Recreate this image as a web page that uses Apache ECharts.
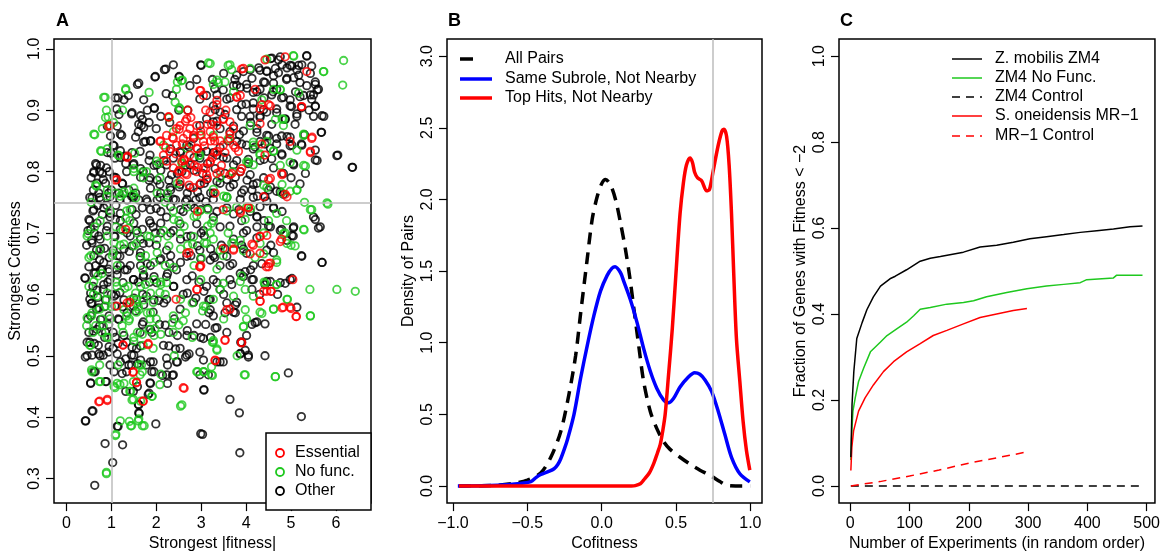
<!DOCTYPE html>
<html>
<head>
<meta charset="utf-8">
<script src="https://cdn.jsdelivr.net/npm/echarts@6/dist/echarts.min.js"></script>
<style>
  html, body { margin: 0; padding: 0; background: #fff; }
  #chart { width: 1163px; height: 557px; }
</style>
</head>
<body>
<div id="chart"></div>
<script>
// ---- panel A: strongest |fitness| vs strongest cofitness ----
const otherPts = [
  [2.38,0.974],[2.18,0.966],[1.97,0.954],[1.58,0.942],[3.0,0.973],[2.51,0.954],[2.22,0.927],[2.36,0.924],[1.38,0.924],[1.15,0.92],
  [1.12,0.902],[1.72,0.917],[1.96,0.903],[1.65,0.891],[1.67,0.875],[1.6,0.865],[1.76,0.849],[1.88,0.85],[1.45,0.894],[1.23,0.859],
  [1.04,0.843],[0.99,0.83],[0.89,0.806],[0.67,0.811],[0.61,0.798],[0.74,0.8],[0.82,0.787],[1.34,0.8],[1.49,0.811],[1.3,0.825],[1.08,0.822],
  [2.97,0.918],[3.12,0.924],[3.27,0.907],[3.42,0.897],[3.57,0.918],[3.72,0.94],[3.87,0.937],[3.75,0.95],[4.01,0.942],[4.09,0.966],
  [4.28,0.969],[4.46,0.964],[4.57,0.985],[4.72,0.982],[4.8,0.974],[4.91,0.969],[5.02,0.972],[5.13,0.966],[5.24,0.974],[5.35,0.988],
  [5.46,0.972],[5.06,0.953],[5.2,0.945],[5.35,0.94],[5.54,0.942],[5.61,0.934],[5.28,0.924],[5.46,0.918],[5.54,0.907],[5.69,0.891],
  [5.67,0.864],[5.5,0.925],[4.72,0.961],[4.61,0.956],[4.42,0.945],[4.31,0.934],[4.16,0.929],[4.68,0.934],[4.83,0.921],[4.98,0.907],
  [5.13,0.894],[4.87,0.886],[4.68,0.902],[4.46,0.897],[4.31,0.891],[4.16,0.902],[4.24,0.87],[4.46,0.859],[4.68,0.854],[4.91,0.857],
  [5.02,0.843],[5.24,0.843],[5.06,0.811],[5.54,0.835],[5.54,0.819],[6.04,0.827],[6.36,0.807],[4.8,0.827],[4.54,0.838],[4.31,0.849],
  [4.01,0.843],[3.79,0.849],[3.64,0.865],[3.42,0.87],[3.27,0.881],[3.12,0.886],[2.97,0.875],[2.83,0.854],[2.68,0.843],[2.53,0.833],
  [2.38,0.822],[2.23,0.811],[2.34,0.795],[2.57,0.8],[2.75,0.811],[2.97,0.822],[3.12,0.833],[3.35,0.827],[3.57,0.822],[3.72,0.811],
  [3.87,0.8],[4.09,0.795],[4.16,0.779],[4.39,0.79],[4.61,0.806],[4.68,0.768],[4.83,0.763],[3.72,0.779],[3.57,0.787],[3.35,0.784],
  [3.12,0.787],[2.97,0.779],[2.75,0.774],[2.53,0.779],[2.31,0.774],[2.08,0.779],[1.86,0.79],[1.71,0.8],[2.01,0.811],[1.86,0.827],[1.64,0.833],
  [0.52,0.758],[0.74,0.758],[0.97,0.759],[1.19,0.755],[1.49,0.758],[1.78,0.755],[2.08,0.758],[2.38,0.755],[2.68,0.755],[2.97,0.758],
  [3.27,0.755],[3.57,0.758],[3.87,0.755],[4.16,0.758],[4.46,0.752],[4.61,0.742],
  [0.59,0.736],[0.52,0.72],[0.48,0.704],[0.56,0.688],[0.67,0.672],[0.74,0.656],[0.97,0.726],[0.89,0.704],[1.08,0.694],[1.04,0.672],
  [1.19,0.662],[1.56,0.704],[1.71,0.683],[1.93,0.71],[2.23,0.726],[2.38,0.704],[2.53,0.715],[2.68,0.694],[2.9,0.715],[3.05,0.704],
  [3.27,0.726],[3.42,0.71],[3.72,0.731],[4.01,0.704],[4.24,0.71],[4.24,0.726],[4.54,0.71],[4.76,0.704],[4.91,0.688],[5.06,0.71],
  [5.02,0.696],[5.5,0.726],[5.65,0.71],[5.24,0.662],[5.69,0.652],[2.23,0.672],[2.68,0.662],[2.97,0.672],[3.2,0.656],[3.57,0.662],
  [4.01,0.667],[4.46,0.672],[2.08,0.656],[1.64,0.662],
  [0.41,0.627],[0.59,0.613],[0.52,0.592],[0.67,0.576],[0.48,0.56],[0.74,0.549],[0.52,0.522],[0.71,0.517],[0.82,0.501],[0.46,0.5],
  [0.64,0.474],[0.54,0.456],[0.89,0.458],[0.97,0.485],[1.04,0.512],[1.04,0.538],[1.15,0.56],[1.08,0.581],[1.19,0.603],[1.26,0.619],
  [1.34,0.522],[1.45,0.501],[1.34,0.474],[1.45,0.485],[1.56,0.512],[1.64,0.538],[1.71,0.555],[1.49,0.581],[1.78,0.597],[1.93,0.571],
  [1.9,0.538],[1.93,0.49],[1.9,0.474],[1.86,0.456],[1.82,0.437],[1.6,0.421],[1.62,0.406],[1.49,0.442],[2.16,0.517],[2.23,0.496],
  [2.23,0.469],[2.38,0.469],[2.45,0.49],[2.53,0.512],[2.68,0.501],[2.68,0.533],[2.9,0.552],[3.05,0.528],[2.97,0.506],[3.05,0.493],
  [2.97,0.469],[3.16,0.469],[3.06,0.445],[3.42,0.49],[3.31,0.545],[3.57,0.538],[3.72,0.571],[3.79,0.587],[4.01,0.533],[3.87,0.504],
  [4.05,0.498],[3.88,0.522],[4.24,0.555],[4.42,0.552],[4.42,0.5],[3.64,0.429],[3.85,0.407],[5.23,0.401],[4.94,0.472],[5.13,0.579],
  [4.98,0.624],[4.76,0.619],[4.46,0.621],[4.16,0.624],[3.94,0.629],[3.64,0.624],[3.35,0.619],[3.2,0.592],[2.68,0.624],[2.38,0.613],
  [2.23,0.629],[2.01,0.619],[1.71,0.629],[1.49,0.624],[0.97,0.624],[0.82,0.608],[2.99,0.373],[3.86,0.342],[1.99,0.389],[1.15,0.385],
  [1.25,0.355],[0.86,0.357],[1.03,0.326],[0.63,0.289],[0.43,0.394],[0.59,0.41],[2.23,0.592],[2.53,0.576],[2.83,0.587],[3.12,0.613],
  [0.55,0.79],[0.6,0.77],[0.7,0.745],[0.8,0.73],[0.9,0.745],[1.0,0.77],[1.1,0.745],[0.45,0.68],[0.62,0.7],[0.75,0.69],
  [0.85,0.675],[0.95,0.66],[1.12,0.64],[0.5,0.645],[0.65,0.635],[0.8,0.64],[0.92,0.62],[1.0,0.6],[1.1,0.6],[0.55,0.585],
  [0.7,0.595],[0.85,0.58],[0.95,0.565],[0.6,0.54],[0.85,0.53],[0.95,0.515],[1.15,0.52],[1.2,0.49],[0.75,0.5],[0.62,0.52],
  [1.25,0.58],[1.3,0.64],[1.35,0.7],[1.4,0.67],[1.2,0.72],[1.25,0.78],[1.1,0.79],[0.95,0.8],[1.45,0.76],[1.55,0.73],
  [1.6,0.62],[1.7,0.6],[1.8,0.65],[1.85,0.62],[2.0,0.68],[2.1,0.7],[2.3,0.65],[2.45,0.64],[2.6,0.6],[2.8,0.63],
  [2.95,0.62],[3.3,0.66],[3.45,0.68],[3.5,0.6],[3.7,0.65],[3.9,0.68],[4.1,0.64],[4.3,0.6],[4.35,0.65],[4.55,0.68],
  [4.7,0.6],[2.4,0.56],[2.2,0.55],[2.05,0.59],[3.0,0.7],[3.15,0.74],[2.85,0.74],[2.6,0.735],[2.0,0.74],[1.85,0.72],
  [3.9,0.72],[4.4,0.72],[4.8,0.735],[2.7,0.9],[2.5,0.9],[2.3,0.88],[2.0,0.87],[2.1,0.89],[1.8,0.9],[2.9,0.95],
  [3.25,0.95],[3.5,0.96],[3.3,0.935],[2.75,0.94],[4.0,0.91],[3.9,0.89],[4.1,0.88],[3.85,0.86],[4.2,0.84],[4.4,0.82],
  [4.05,0.82],[3.95,0.77],[4.25,0.76],[4.5,0.77],[5.0,0.79],[5.2,0.78],[5.3,0.86],[5.4,0.9],[5.1,0.93],[4.9,0.95],
  [4.6,0.93],[4.4,0.92],
  [2.21,0.967],[2.51,0.955],[1.98,0.955],[1.61,0.944],[2.99,0.974],[1.09,0.92],[1.28,0.917],[1.46,0.896],[1.17,0.893],[1.69,0.885],
  [1.84,0.88],[1.95,0.904],[1.61,0.877],[1.72,0.872],[1.54,0.856],[1.72,0.848],[1.87,0.85],[1.46,0.831],[1.2,0.834],[0.91,0.831],
  [1.06,0.842],[1.2,0.861],[0.98,0.858],[1.13,0.874],[0.91,0.874],[1.2,0.823],[1.32,0.813],[1.5,0.813],[1.65,0.805],[1.84,0.818],
  [1.95,0.81],[2.1,0.802],[2.17,0.818],[2.32,0.837],[2.54,0.831],[2.73,0.84],[2.84,0.823],[2.99,0.831],[3.14,0.813],[3.03,0.797],
  [2.84,0.802],[2.65,0.81],[2.47,0.797],[2.28,0.786],[0.65,0.813],[0.76,0.81],[0.61,0.8],[0.8,0.797],[0.68,0.781],[0.87,0.781],
  [1.06,0.791],[1.24,0.781],[1.39,0.77],[1.54,0.765],[1.35,0.754],[1.17,0.765],[0.94,0.765],[0.72,0.765],[0.76,0.754],[0.57,0.757],
  [1.65,0.791],[1.84,0.786],[2.02,0.786],[1.87,0.773],[2.1,0.765],[2.32,0.77],[2.51,0.775],[2.69,0.765],[2.92,0.767],[3.07,0.781],
  [3.21,0.765],[3.1,0.751],[2.88,0.754],[2.65,0.751],[2.43,0.754],[2.25,0.757],[2.02,0.754],[1.8,0.751],[1.61,0.754],
  [0.61,0.738],[0.83,0.741],[0.98,0.732],[1.2,0.732],[1.46,0.738],[1.69,0.741],[1.87,0.738],[2.1,0.735],[2.32,0.743],[2.54,0.738],
  [2.77,0.746],[2.99,0.738],[0.5,0.722],[0.68,0.716],[0.54,0.706],[0.72,0.695],[0.57,0.684],[0.76,0.674],[0.61,0.663],[0.83,0.652],
  [0.65,0.647],[0.94,0.641],[1.13,0.663],[1.28,0.674],[1.46,0.679],[1.65,0.668],[1.84,0.684],[1.98,0.7],[1.87,0.716],[2.1,0.716],
  [2.32,0.7],[2.54,0.69],[2.77,0.695],[2.92,0.679],[3.07,0.695],[3.21,0.674],[2.99,0.658],[2.77,0.663],[2.54,0.652],[2.32,0.663],
  [2.1,0.658],[1.87,0.647],[1.65,0.647],[1.42,0.647],[1.2,0.647],[1.06,0.695],[1.2,0.706],[0.91,0.711],[1.09,0.722],[1.5,0.716],
  [1.69,0.706],[1.42,0.695],[1.65,0.69],
  [4.54,0.984],[4.76,0.987],[4.98,0.973],[5.17,0.973],[5.35,0.989],[4.65,0.968],[4.46,0.963],[4.31,0.965],[3.94,0.963],[3.79,0.957],
  [4.13,0.952],[4.39,0.946],[4.61,0.944],[4.91,0.952],[5.17,0.957],[5.43,0.96],[5.54,0.946],[5.58,0.933],[5.43,0.925],[5.2,0.922],
  [4.98,0.917],[4.79,0.92],[4.57,0.925],[4.24,0.93],[4.02,0.936],[3.79,0.941],[3.49,0.933],[3.35,0.925],[3.64,0.92],[3.9,0.909],
  [4.16,0.912],[4.39,0.901],[4.68,0.896],[5.01,0.906],[5.23,0.904],[5.54,0.906],[5.73,0.89],[5.5,0.89],[5.13,0.89],[5.09,0.877],
  [4.87,0.885],[4.57,0.877],[4.31,0.888],[4.09,0.89],[3.79,0.901],[3.53,0.893],[3.31,0.901],[3.35,0.882],[3.72,0.874],[3.94,0.866],
  [4.24,0.864],[4.5,0.858],[4.79,0.858],[4.98,0.856],[5.23,0.845],[5.68,0.864],[5.58,0.818],[5.32,0.797],[6.02,0.826],[6.37,0.807],
  [4.98,0.842],[4.68,0.845],[4.42,0.845],[4.16,0.837],[3.9,0.845],[3.6,0.85],[3.42,0.839],[3.27,0.831],[3.49,0.823],[3.79,0.818],
  [4.05,0.813],[4.31,0.818],[4.57,0.821],[4.79,0.829],[5.05,0.813],[4.83,0.797],[4.76,0.767],[4.54,0.775],[4.24,0.781],[4.02,0.786],
  [3.76,0.791],[3.53,0.797],[3.31,0.805],[3.42,0.781],[3.64,0.775],[3.9,0.765],[4.13,0.77],[4.42,0.759],[4.61,0.74],[4.31,0.743],
  [4.09,0.735],[3.84,0.738],[3.57,0.741],[3.35,0.735],[3.27,0.765],[4.24,0.727],[4.5,0.711],[4.79,0.706],[5.05,0.708],[5.54,0.722],
  [5.61,0.708],[3.64,0.711],[3.94,0.7],[3.72,0.69],[3.53,0.674],[3.27,0.663],[3.42,0.647],[3.64,0.647],[4.16,0.647],[4.24,0.692],
  [4.61,0.668],[5.05,0.695],[5.23,0.663],[5.69,0.652],[3.94,0.674],
  [0.42,0.626],[0.61,0.634],[0.76,0.64],[0.94,0.637],[1.13,0.632],[1.35,0.64],[1.5,0.624],[1.72,0.632],[1.95,0.629],[2.25,0.634],
  [2.39,0.613],[2.69,0.602],[2.88,0.594],[3.06,0.605],[3.17,0.591],[0.54,0.602],[0.68,0.607],[0.83,0.616],[0.57,0.586],[0.72,0.578],
  [0.87,0.591],[1.06,0.597],[1.28,0.591],[1.5,0.594],[1.72,0.583],[1.95,0.591],[2.17,0.586],[0.54,0.565],[0.76,0.559],[0.94,0.551],
  [1.17,0.559],[1.35,0.57],[1.54,0.573],[1.69,0.551],[1.87,0.543],[2.07,0.551],[2.28,0.538],[2.47,0.533],[2.69,0.541],[2.84,0.533],
  [2.99,0.53],[3.1,0.551],[0.5,0.538],[0.68,0.543],[0.87,0.538],[1.09,0.53],[1.28,0.533],[1.46,0.514],[1.65,0.516],[0.46,0.522],
  [0.57,0.501],[0.42,0.498],[0.72,0.503],[0.94,0.506],[1.13,0.503],[1.32,0.495],[1.5,0.501],[1.65,0.493],[1.87,0.49],[1.95,0.474],
  [1.78,0.485],[1.58,0.487],[1.39,0.485],[1.24,0.471],[1.06,0.474],[0.61,0.474],[0.54,0.455],[0.87,0.458],[1.32,0.442],[1.58,0.45],
  [1.87,0.455],[1.84,0.439],[1.61,0.407],[2.25,0.455],[2.14,0.468],[2.36,0.468],[2.25,0.485],[2.47,0.49],[2.43,0.511],[2.65,0.498],
  [2.73,0.503],[2.28,0.516],[3.06,0.444],[3.03,0.372],[1.13,0.385],[0.42,0.394],[0.57,0.41],[1.61,0.42],[3.17,0.57],[3.21,0.53],
  [3.27,0.624],[3.42,0.608],[3.57,0.586],[3.68,0.616],[3.87,0.634],[3.98,0.637],[4.13,0.624],[4.13,0.608],[4.54,0.621],[4.87,0.618],
  [5.02,0.626],[4.42,0.616],[3.76,0.583],[3.53,0.57],[3.76,0.57],[3.27,0.565],[3.35,0.546],[4.13,0.551],[4.2,0.554],[3.9,0.522],
  [3.98,0.509],[4.05,0.501],[3.87,0.503],[3.49,0.49],[3.35,0.49],[3.2,0.575]
];
const noFuncPts = [
  [6.17,0.981],[6.15,0.941],[5.72,0.963],[5.06,0.988],[4.46,0.983],[3.64,0.974],[3.68,0.966],[3.16,0.977],[3.38,0.945],[3.27,0.942],
  [2.56,0.948],[2.45,0.934],[2.42,0.913],[2.53,0.902],[0.63,0.86],[0.86,0.921],[1.32,0.935],[0.89,0.9],[0.93,0.889],[0.97,0.875],
  [0.78,0.833],[0.67,0.776],[0.48,0.699],[0.63,0.71],[0.97,0.736],[1.34,0.736],[1.41,0.72],[1.49,0.763],[1.26,0.763],[1.15,0.827],
  [1.52,0.83],[1.78,0.8],[1.71,0.79],[2.08,0.79],[2.57,0.814],[2.97,0.827],[3.27,0.771],[3.57,0.758],[3.79,0.742],[3.57,0.736],
  [4.01,0.742],[4.46,0.774],[4.8,0.779],[5.13,0.77],[5.46,0.738],[5.82,0.747],[5.29,0.705],[4.83,0.699],[4.91,0.683],[4.68,0.656],
  [4.31,0.683],[3.87,0.688],[3.72,0.683],[3.42,0.672],[3.12,0.683],[2.83,0.694],[2.53,0.699],[2.16,0.704],[1.86,0.694],[1.56,0.683],
  [1.26,0.704],[1.04,0.667],[0.74,0.672],[2.9,0.728],[3.27,0.72],[2.68,0.742],[2.38,0.736],[2.97,0.736],[4.09,0.875],[4.16,0.843],
  [4.46,0.849],[4.61,0.833],[4.83,0.875],[4.8,0.886],[4.61,0.934],[4.76,0.934],[5.28,0.859],[5.32,0.809],[5.13,0.835],[4.31,0.827],
  [4.16,0.811],[4.01,0.816],[3.27,0.859],[2.97,0.859],[2.68,0.838],[2.38,0.865],[2.16,0.843],[2.01,0.817],[4.98,0.768],[3.42,0.79],
  [6.43,0.605],[6.02,0.608],[5.43,0.565],[4.91,0.592],[4.68,0.616],[4.61,0.576],[4.31,0.571],[4.65,0.466],[3.98,0.469],[3.94,0.547],
  [4.01,0.56],[3.72,0.597],[3.42,0.608],[3.27,0.592],[3.05,0.581],[3.27,0.525],[3.35,0.509],[3.23,0.482],[3.05,0.474],[2.9,0.474],
  [2.57,0.42],[2.6,0.557],[2.38,0.538],[2.38,0.565],[2.08,0.603],[1.93,0.587],[1.86,0.56],[1.97,0.544],[1.93,0.512],[1.71,0.517],
  [1.67,0.485],[1.64,0.469],[1.49,0.458],[1.41,0.442],[1.49,0.429],[1.45,0.386],[1.73,0.386],[1.6,0.394],[1.4,0.393],[1.1,0.372],
  [0.89,0.31],[1.19,0.453],[1.08,0.448],[1.15,0.485],[1.26,0.538],[1.34,0.565],[1.56,0.571],[1.56,0.592],[1.37,0.613],[1.12,0.613],
  [0.89,0.592],[0.74,0.576],[0.56,0.565],[0.45,0.549],[0.59,0.538],[0.52,0.517],[0.74,0.485],[0.56,0.477],[0.73,0.458],[0.82,0.549],
  [0.97,0.56],[1.9,0.434],[2.08,0.453],[2.23,0.619],
  [0.5,0.66],[0.7,0.63],[0.6,0.6],[0.8,0.56],[0.9,0.53],[1.0,0.58],[1.1,0.62],[1.2,0.68],[1.3,0.61],[1.4,0.56],
  [1.5,0.53],[1.6,0.58],[1.7,0.64],[1.8,0.57],[2.0,0.56],[2.1,0.62],[2.2,0.6],[0.9,0.76],[1.1,0.71],[1.2,0.76],
  [0.75,0.72],[0.55,0.75],[1.05,0.88],[1.25,0.9],[1.5,0.8],[0.8,0.87],[2.2,0.75],[2.5,0.72],[2.7,0.68],[3.0,0.66],
  [3.2,0.7],[3.6,0.7],[3.9,0.63],[4.2,0.66],[4.4,0.62],[3.7,0.8],[3.5,0.76],[4.1,0.74],[4.5,0.72],[4.9,0.72],
  [3.1,0.58],[3.5,0.56],[3.8,0.5],[2.8,0.53],[2.5,0.55],[2.4,0.5],[2.1,0.47],[5.0,0.68],[5.3,0.75],
  [0.83,0.921],[1.32,0.933],[1.84,0.929],[2.47,0.946],[2.58,0.949],[2.51,0.904],[2.28,0.888],[0.87,0.888],[0.61,0.861],[0.76,0.834],
  [0.91,0.837],[1.17,0.826],[1.5,0.805],[1.69,0.799],[0.65,0.778],[0.91,0.77],[1.09,0.765],[1.28,0.767],[1.5,0.773],[1.54,0.757],
  [2.02,0.765],[2.25,0.765],[2.47,0.781],[2.95,0.826],[2.58,0.813],[2.06,0.813],[1.42,0.738],[1.32,0.724],[1.39,0.708],[1.58,0.7],
  [1.8,0.695],[2.02,0.69],[2.25,0.695],[2.39,0.722],[2.62,0.711],[2.84,0.727],[3.14,0.738],[3.14,0.711],[3.07,0.684],[2.81,0.682],
  [2.54,0.674],[2.28,0.679],[2.02,0.668],[1.76,0.663],[1.5,0.679],[1.28,0.682],[1.06,0.684],[0.91,0.695],[0.46,0.695],[0.54,0.663],
  [1.02,0.663],[1.13,0.647],[1.65,0.66],[1.95,0.652],[2.2,0.647],[2.84,0.647],[2.39,0.644],
  [3.2,0.976],[3.6,0.973],[4.09,0.968],[5.05,0.989],[5.73,0.963],[3.35,0.949],[3.53,0.946],[3.72,0.93],[4.35,0.917],[4.76,0.933],
  [5.17,0.928],[4.65,0.885],[4.83,0.885],[5.28,0.861],[4.16,0.848],[4.61,0.834],[4.31,0.829],[4.05,0.815],[4.76,0.81],[4.98,0.815],
  [5.28,0.81],[5.13,0.77],[4.39,0.778],[4.79,0.765],[3.6,0.853],[3.57,0.759],[3.98,0.722],[5.43,0.738],[5.8,0.749],[5.28,0.706],
  [4.87,0.7],[4.68,0.732],[4.39,0.7],[3.94,0.671],[3.68,0.684],[3.49,0.663],[3.35,0.641],[4.68,0.652],[5.09,0.679],[4.39,0.666],
  [3.23,0.716],[3.27,0.69],
  [0.46,0.562],[0.57,0.57],[0.68,0.597],[0.5,0.613],[0.61,0.621],[0.79,0.634],[0.91,0.602],[0.87,0.581],[0.65,0.549],[0.79,0.538],
  [0.54,0.517],[0.94,0.53],[1.24,0.549],[1.28,0.575],[1.42,0.591],[1.54,0.602],[1.65,0.613],[1.76,0.616],[1.95,0.624],[2.1,0.616],
  [1.87,0.602],[1.72,0.591],[1.54,0.586],[1.61,0.575],[1.87,0.57],[1.84,0.543],[1.69,0.535],[1.95,0.533],[1.5,0.524],[1.58,0.538],
  [1.39,0.557],[2.1,0.535],[2.36,0.554],[2.54,0.592],[2.65,0.57],[2.8,0.586],[2.99,0.624],[3.03,0.573],[3.25,0.522],[3.25,0.468],
  [2.92,0.474],[3.06,0.474],[2.54,0.418],[1.28,0.455],[1.13,0.455],[1.06,0.45],[0.76,0.458],[0.57,0.474],[1.43,0.442],[1.46,0.428],
  [1.65,0.426],[1.91,0.434],[1.2,0.394],[1.43,0.386],[1.69,0.386],[1.61,0.397],[1.09,0.37],[0.89,0.308],[1.69,0.474],[1.61,0.485],
  [3.49,0.618],[3.87,0.621],[3.98,0.608],[4.16,0.597],[4.42,0.618],[4.68,0.616],[5.42,0.608],[4.92,0.592],[4.61,0.576],[4.35,0.569],
  [5.43,0.565],[3.98,0.575],[3.94,0.548],[3.27,0.522],[3.35,0.511],[3.23,0.469],[3.96,0.469],[4.65,0.466]
];
const essentialPts = [
  [2.23,0.859],[2.38,0.854],[2.53,0.875],[2.68,0.886],[2.75,0.87],[2.83,0.859],[2.9,0.875],[2.6,0.854],[2.45,0.843],[2.3,0.833],
  [2.23,0.817],[2.38,0.806],[2.57,0.817],[2.75,0.827],[2.9,0.838],[3.05,0.849],[3.2,0.865],[3.35,0.875],[3.49,0.886],[3.64,0.881],
  [3.72,0.87],[3.64,0.854],[3.49,0.843],[3.35,0.833],[3.2,0.817],[3.05,0.806],[2.9,0.8],[2.68,0.795],[2.53,0.784],[2.83,0.774],
  [3.12,0.795],[3.42,0.8],[3.72,0.843],[3.83,0.833],[3.87,0.8],[3.64,0.795],[2.08,0.849],[2.16,0.827],[2.27,0.889],[3.2,0.897],
  [3.05,0.924],[2.97,0.932],[3.87,0.924],[4.31,0.902],[4.31,0.878],[4.54,0.907],[4.98,0.849],[5.24,0.906],[5.46,0.854],[5.43,0.833],
  [4.8,0.795],[4.5,0.787],[4.42,0.827],[4.2,0.934],[4.42,0.982],[3.9,0.967],[3.79,0.921],[3.35,0.916],[1.36,0.825],[1.12,0.787],
  [0.97,0.875],[4.87,0.763],[3.87,0.736],[4.05,0.742],[4.31,0.694],[4.46,0.696],[4.16,0.68],[4.31,0.667],[4.54,0.651],[4.76,0.686],
  [3.49,0.675],[3.72,0.672],[2.97,0.645],[2.68,0.667],
  [5.04,0.624],[4.98,0.579],[5.12,0.564],[4.83,0.579],[4.55,0.605],[4.46,0.605],[4.31,0.589],[3.9,0.522],[3.53,0.525],[3.31,0.493],
  [2.6,0.448],[1.82,0.52],[1.26,0.517],[1.49,0.474],[1.56,0.456],[1.71,0.426],[0.91,0.429],[0.72,0.425],[1.41,0.587],[1.12,0.581],
  [2.44,0.592],[2.9,0.608],[2.97,0.645],[4.5,0.645],[3.64,0.576],
  [2.45,0.87],[2.62,0.82],[2.85,0.81],[3.0,0.86],[3.1,0.9],[3.3,0.85],[2.5,0.8],[2.7,0.9],[3.55,0.9],[3.45,0.81],
  [2.99,0.932],[2.28,0.889],[0.94,0.874],[1.35,0.823],[1.09,0.786],[2.1,0.85],[2.21,0.839],[2.36,0.856],[2.51,0.869],[2.65,0.882],
  [2.77,0.888],[2.69,0.861],[2.84,0.856],[2.99,0.866],[3.14,0.877],[3.21,0.85],[3.07,0.842],[2.92,0.837],[2.77,0.845],[2.58,0.845],
  [2.43,0.829],[2.62,0.818],[2.77,0.813],[2.92,0.807],[3.1,0.805],[3.25,0.823],[2.51,0.802],[2.65,0.797],[2.99,0.781],[2.73,0.778],
  [3.14,0.789],[2.92,0.735],[1.32,0.706],[2.73,0.668],[2.99,0.647],
  [3.94,0.968],[4.87,0.987],[5.35,0.963],[3.79,0.922],[4.35,0.909],[4.5,0.909],[5.23,0.906],[5.47,0.856],[5.43,0.831],[3.35,0.909],
  [3.49,0.885],[3.23,0.877],[3.27,0.856],[3.42,0.85],[3.64,0.861],[3.76,0.839],[3.31,0.831],[3.53,0.831],[3.2,0.815],[3.35,0.797],
  [3.68,0.797],[3.9,0.805],[4.35,0.845],[4.54,0.789],[4.79,0.797],[4.91,0.759],[4.39,0.759],[4.05,0.741],[3.31,0.765],[3.49,0.738],
  [3.87,0.733],[4.13,0.682],[4.31,0.695],[4.79,0.69],[3.72,0.674],[4.09,0.666],[4.5,0.65],
  [2.91,0.608],[1.26,0.518],[1.82,0.518],[1.48,0.473],[1.56,0.457],[1.7,0.426],[0.74,0.426],[0.91,0.427],[2.62,0.447],[1.35,0.586],
  [3.53,0.526],[3.9,0.521],[3.31,0.492],[4.39,0.605],[4.56,0.605],[4.31,0.589],[4.8,0.578],[5.0,0.577],[5.11,0.564],[4.45,0.645],
  [3.57,0.575]
];
const aXTicks = [0, 1, 2, 3, 4, 5, 6];
const aYTicks = [0.3, 0.4, 0.5, 0.6, 0.7, 0.8, 0.9, 1.0];
const aLegendNames = ['Essential', 'No func.', 'Other'];

// ---- panel B: density of cofitness ----
const allPairsCurve = [
  [-0.96,0],[-0.7,0.005],[-0.576,0.02],[-0.5,0.04],[-0.41,0.09],[-0.342,0.2],[-0.275,0.38],[-0.22,0.64],[-0.175,0.91],[-0.142,1.2],
  [-0.1,1.56],[-0.064,1.86],[-0.03,2.02],[0.0,2.11],[0.026,2.14],[0.06,2.1],[0.093,2.0],[0.126,1.84],[0.16,1.65],[0.19,1.45],
  [0.215,1.25],[0.249,0.98],[0.282,0.73],[0.327,0.52],[0.371,0.4],[0.416,0.31],[0.46,0.255],[0.527,0.2],[0.594,0.152],[0.661,0.11],
  [0.728,0.074],[0.795,0.03],[0.839,0.005],[0.9,0],[1.0,0]
];
const sameSubroleCurve = [
  [-0.967,0],[-0.7,0.005],[-0.565,0.016],[-0.476,0.03],[-0.44,0.06],[-0.409,0.08],[-0.36,0.1],[-0.32,0.12],[-0.295,0.15],[-0.275,0.19],
  [-0.25,0.26],[-0.231,0.32],[-0.186,0.5],[-0.142,0.75],[-0.097,0.98],[-0.052,1.19],[-0.008,1.36],[0.037,1.47],[0.07,1.52],[0.09,1.53],
  [0.126,1.49],[0.148,1.43],[0.193,1.3],[0.238,1.14],[0.282,0.96],[0.327,0.8],[0.371,0.68],[0.416,0.6],[0.449,0.58],[0.483,0.61],
  [0.527,0.69],[0.583,0.76],[0.625,0.79],[0.66,0.78],[0.695,0.74],[0.739,0.66],[0.784,0.52],[0.828,0.36],[0.873,0.2],[0.929,0.085],
  [0.996,0.028]
];
const topHitsCurve = [
  [-0.96,0],[0.0,0],[0.2,0],[0.226,0.002],[0.26,0.015],[0.282,0.04],[0.32,0.09],[0.349,0.154],[0.375,0.23],[0.394,0.29],
  [0.41,0.38],[0.427,0.5],[0.45,0.78],[0.475,1.1],[0.498,1.46],[0.527,1.9],[0.55,2.12],[0.57,2.24],[0.594,2.29],[0.61,2.26],
  [0.625,2.19],[0.645,2.15],[0.672,2.13],[0.706,2.06],[0.725,2.07],[0.75,2.2],[0.784,2.38],[0.81,2.48],[0.822,2.49],[0.84,2.44],
  [0.857,2.24],[0.873,1.9],[0.888,1.48],[0.906,1.03],[0.929,0.73],[0.951,0.45],[0.973,0.25],[0.996,0.11]
];
const bXTicks = [-1, -0.5, 0, 0.5, 1];
const bYTicks = [0, 0.5, 1, 1.5, 2, 2.5, 3];
const bLegendNames = ['All Pairs', 'Same Subrole, Not Nearby', 'Top Hits, Not Nearby'];

// ---- panel C: fraction of genes with fitness < -2 ----
const zm4Curve = [
  [1,0.067],[3,0.19],[6,0.266],[11,0.343],[20,0.38],[28,0.41],[39,0.44],[51,0.465],[67,0.482],[76,0.488],[95,0.503],[118,0.523],
  [135,0.53],[152,0.534],[191,0.544],[219,0.556],[247,0.56],[275,0.567],[303,0.575],[331,0.58],[360,0.585],[388,0.59],[416,0.594],
  [444,0.598],[472,0.603],[493,0.605]
];
const zm4NoFuncCurve = [
  [1,0.06],[2.7,0.128],[4.5,0.174],[8.4,0.205],[14,0.243],[22.5,0.274],[34,0.312],[51,0.335],[62,0.35],[79,0.366],[95,0.381],
  [107,0.396],[118,0.411],[135,0.415],[163,0.423],[191,0.427],[208,0.431],[230,0.44],[264,0.45],[298,0.459],[331,0.465],[360,0.469],
  [388,0.473],[399,0.48],[444,0.484],[449,0.49],[493,0.49]
];
const zm4ControlCurve = [[1,0],[100,0],[200,0],[300,0],[400,0],[493,0]];
const mr1Curve = [
  [1,0.036],[2.7,0.09],[5.6,0.128],[14,0.174],[25,0.205],[39,0.235],[56,0.266],[73,0.289],[95,0.312],[118,0.331],[140,0.35],
  [163,0.362],[191,0.377],[219,0.392],[247,0.4],[275,0.408],[298,0.413]
];
const mr1ControlCurve = [[1,0],[50,0.01],[100,0.023],[150,0.037],[200,0.053],[250,0.066],[298,0.079]];
const cXTicks = [0, 100, 200, 300, 400, 500];
const cYTicks = [0, 0.2, 0.4, 0.6, 0.8, 1.0];
const cLegendNames = ['Z. mobilis ZM4', 'ZM4 No Func.', 'ZM4 Control', 'S. oneidensis MR\u22121', 'MR\u22121 Control'];

const FONT = "'Liberation Sans', Arial, Helvetica, sans-serif";
const GREEN = '#1ec81e';

function fmt1(v) {
  return v.toFixed(1).replace('-', '\u2212');
}
function fmt0(v) {
  return String(Math.round(v));
}

function makeAxis(dim, grid, min, max, ticks, formatter, name) {
  return {
    type: 'value',
    gridIndex: grid,
    min: min,
    max: max,
    name: name,
    nameLocation: 'middle',
    nameGap: 30,
    nameTextStyle: { color: '#000', fontSize: 16, fontFamily: FONT },
    axisLine: { show: false, onZero: false },
    axisTick: {
      show: true,
      length: 8,
      customValues: ticks,
      lineStyle: { color: '#000', width: 1.2 }
    },
    axisLabel: {
      show: true,
      customValues: ticks,
      formatter: formatter,
      color: '#000',
      fontSize: 16,
      fontFamily: FONT,
      margin: dim === 'x' ? 12 : 11,
      rotate: dim === 'y' ? 90 : 0
    },
    splitLine: { show: false }
  };
}

function scatterSeries(name, data, color) {
  return {
    name: name,
    type: 'scatter',
    xAxisIndex: 0,
    yAxisIndex: 0,
    data: data,
    symbol: 'circle',
    symbolSize: 7.5,
    itemStyle: { color: 'rgba(0,0,0,0)', borderColor: color, borderWidth: 1.8 },
    emphasis: { disabled: true },
    silent: true
  };
}

function lineSeries(name, axis, data, color, width, dash, smooth) {
  return {
    name: name,
    type: 'line',
    xAxisIndex: axis,
    yAxisIndex: axis,
    data: data,
    showSymbol: false,
    symbol: 'none',
    smooth: smooth,
    lineStyle: { color: color, width: width, type: dash || 'solid' },
    emphasis: { disabled: true },
    silent: true
  };
}

const refLine = {
  silent: true,
  symbol: ['none', 'none'],
  label: { show: false },
  lineStyle: { color: '#bdbdbd', width: 1.5, type: 'solid' },
  emphasis: { disabled: true },
  animation: false
};

const gridStyle = { show: true, borderColor: '#000', borderWidth: 1.5, backgroundColor: 'rgba(0,0,0,0)' };

// legend keys drawn as plain shapes + text
function legendText(x, y, text) {
  return {
    type: 'text', z: 101, silent: true,
    style: { x: x, y: y, text: text, fill: '#000', fontSize: 16, fontFamily: FONT, align: 'left', verticalAlign: 'middle' }
  };
}
function legendLine(x1, x2, y, color, width, dash) {
  return {
    type: 'line', z: 101, silent: true,
    shape: { x1: x1, y1: y, x2: x2, y2: y },
    style: { stroke: color, lineWidth: width, lineDash: dash || null }
  };
}

const aColors = ['#ff0000', GREEN, '#000'];
const aRows = [453, 472, 491];
const bRows = [59, 79, 98];
const cRows = [59, 78, 97, 116, 136];

const graphics = [
  {
    type: 'rect', z: 100, silent: true,
    shape: { x: 266, y: 433, width: 105, height: 77 },
    style: { fill: '#fff', stroke: '#000', lineWidth: 1.5 }
  }
];
aLegendNames.forEach(function (n, i) {
  graphics.push({
    type: 'circle', z: 101, silent: true,
    shape: { cx: 280, cy: aRows[i], r: 4 },
    style: { fill: 'none', stroke: aColors[i], lineWidth: 1.8 }
  });
  graphics.push(legendText(295, aRows[i], n));
});
const bKeys = [['#000', [13, 40]], ['#0000ff', null], ['#ff0000', null]];
bLegendNames.forEach(function (n, i) {
  graphics.push(legendLine(460, 492, bRows[i], bKeys[i][0], 3.5, bKeys[i][1]));
  graphics.push(legendText(505, bRows[i], n));
});
const cKeys = [['#000', null], [GREEN, null], ['#000', [8, 6]], ['#ff0000', null], ['#ff0000', [8, 6]]];
cLegendNames.forEach(function (n, i) {
  graphics.push(legendLine(952, 982, cRows[i], cKeys[i][0], 1.5, cKeys[i][1]));
  graphics.push(legendText(995, cRows[i], n));
});

const chart = echarts.init(document.getElementById('chart'), null, { renderer: 'canvas' });
chart.setOption({
  backgroundColor: '#fff',
  animation: false,
  title: [
    { text: 'A', left: 56, top: 12, padding: 0, textStyle: { fontSize: 18, fontWeight: 'bold', color: '#000', fontFamily: FONT } },
    { text: 'B', left: 448, top: 12, padding: 0, textStyle: { fontSize: 18, fontWeight: 'bold', color: '#000', fontFamily: FONT } },
    { text: 'C', left: 840, top: 12, padding: 0, textStyle: { fontSize: 18, fontWeight: 'bold', color: '#000', fontFamily: FONT } }
  ],
  grid: [
    Object.assign({ left: 54, top: 39, width: 317, height: 471 }, gridStyle),
    Object.assign({ left: 447, top: 39, width: 315, height: 470 }, gridStyle),
    Object.assign({ left: 839, top: 39, width: 316, height: 470 }, gridStyle)
  ],
  xAxis: [
    makeAxis('x', 0, -0.277, 6.78, aXTicks, fmt0, 'Strongest |fitness|'),
    makeAxis('x', 1, -1.04, 1.078, bXTicks, fmt1, 'Cofitness'),
    makeAxis('x', 2, -19, 514, cXTicks, fmt0, 'Number of Experiments (in random order)')
  ],
  yAxis: [
    makeAxis('y', 0, 0.26, 1.016, aYTicks, fmt1, 'Strongest Cofitness'),
    makeAxis('y', 1, -0.12, 3.12, bYTicks, fmt1, 'Density of Pairs'),
    makeAxis('y', 2, -0.04, 1.04, cYTicks, fmt1, 'Fraction of Genes with Fitness < \u22122')
  ],
  series: [
    scatterSeries('Other', otherPts, '#000'),
    scatterSeries('No func.', noFuncPts, GREEN),
    Object.assign(scatterSeries('Essential', essentialPts, '#ff0000'), {
      markLine: Object.assign({ data: [{ xAxis: 1 }, { yAxis: 0.75 }] }, refLine)
    }),
    lineSeries('All Pairs', 1, allPairsCurve, '#000', 3.5, [12, 8], 0.3),
    lineSeries('Same Subrole, Not Nearby', 1, sameSubroleCurve, '#0000ff', 3.5, null, 0.3),
    Object.assign(lineSeries('Top Hits, Not Nearby', 1, topHitsCurve, '#ff0000', 3.5, null, 0.3), {
      markLine: Object.assign({ data: [{ xAxis: 0.75 }] }, refLine)
    }),
    lineSeries('ZM4 Control', 2, zm4ControlCurve, '#000', 1.5, [8, 6], false),
    lineSeries('MR-1 Control', 2, mr1ControlCurve, '#ff0000', 1.5, [8, 6], false),
    lineSeries('ZM4 No Func.', 2, zm4NoFuncCurve, GREEN, 1.5, null, false),
    lineSeries('S. oneidensis MR-1', 2, mr1Curve, '#ff0000', 1.5, null, false),
    lineSeries('Z. mobilis ZM4', 2, zm4Curve, '#000', 1.5, null, false)
  ],
  graphic: graphics
});
</script>
</body>
</html>
